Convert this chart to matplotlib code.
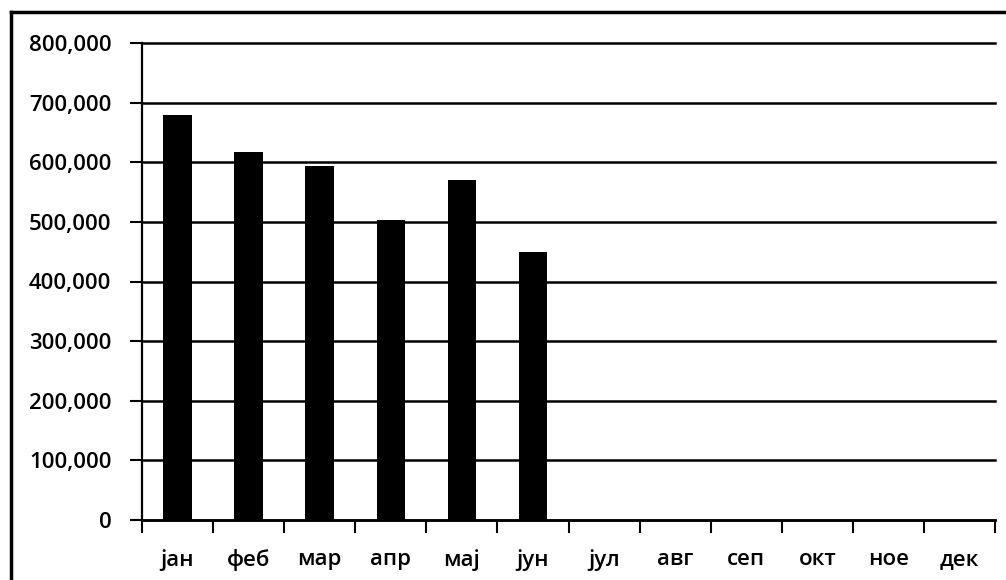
import numpy as np
import matplotlib.pyplot as plt
from matplotlib.lines import Line2D
from matplotlib.ticker import FuncFormatter

meseci = ['јан', 'феб', 'мар', 'апр', 'мај', 'јун', 'јул', 'авг', 'сеп', 'окт', 'ное', 'дек']
vrednosti = [680000, 618000, 593000, 503000, 571000, 450000]
y_ticks = [0, 100000, 200000, 300000, 400000, 500000, 600000, 700000, 800000]

plt.rcParams['font.family'] = ['Open Sans', 'DejaVu Sans']
plt.rcParams['font.weight'] = 'semibold'

fig = plt.figure(figsize=(10.06, 5.80), dpi=100)
ax = fig.add_axes([142 / 1006, 1 - 520 / 580, (995 - 142) / 1006, (520 - 43) / 580])

x = np.arange(len(vrednosti)) + 0.5
ax.bar(x, vrednosti, width=0.4, color='black', zorder=3)

ax.set_xlim(0, len(meseci))
ax.set_ylim(0, 800000)
ax.set_yticks(y_ticks)
ax.yaxis.set_major_formatter(FuncFormatter(lambda v, p: f'{int(v):,}'))
ax.yaxis.grid(True, color='black', linewidth=1.8, zorder=1)
for g in ax.get_ygridlines():
    g.set_clip_on(False)

ax.set_xticks(np.arange(len(meseci) + 1))
ax.set_xticklabels([])
ax.set_xticks(np.arange(len(meseci)) + 0.5, minor=True)
ax.set_xticklabels(meseci, minor=True)

ax.tick_params(axis='y', direction='out', length=9, width=1.5, pad=13, labelsize=16, colors='black')
ax.tick_params(axis='x', which='major', direction='out', length=9, width=1.5)
ax.tick_params(axis='x', which='minor', length=0, pad=21, labelsize=16)

for s in ['top', 'right']:
    ax.spines[s].set_visible(False)
ax.spines['left'].set_linewidth(1.6)
ax.spines['bottom'].set_linewidth(1.8)

# okvir grafikona (skeniran, vidi se samo gore i levo)
fig.add_artist(Line2D([11 / 1006, 1.0], [1 - 12 / 580, 1 - 12 / 580], color='black', linewidth=2.5))
fig.add_artist(Line2D([11 / 1006, 11 / 1006], [0, 1 - 12 / 580], color='black', linewidth=2.5))

fig.savefig('out.png', dpi=100)
